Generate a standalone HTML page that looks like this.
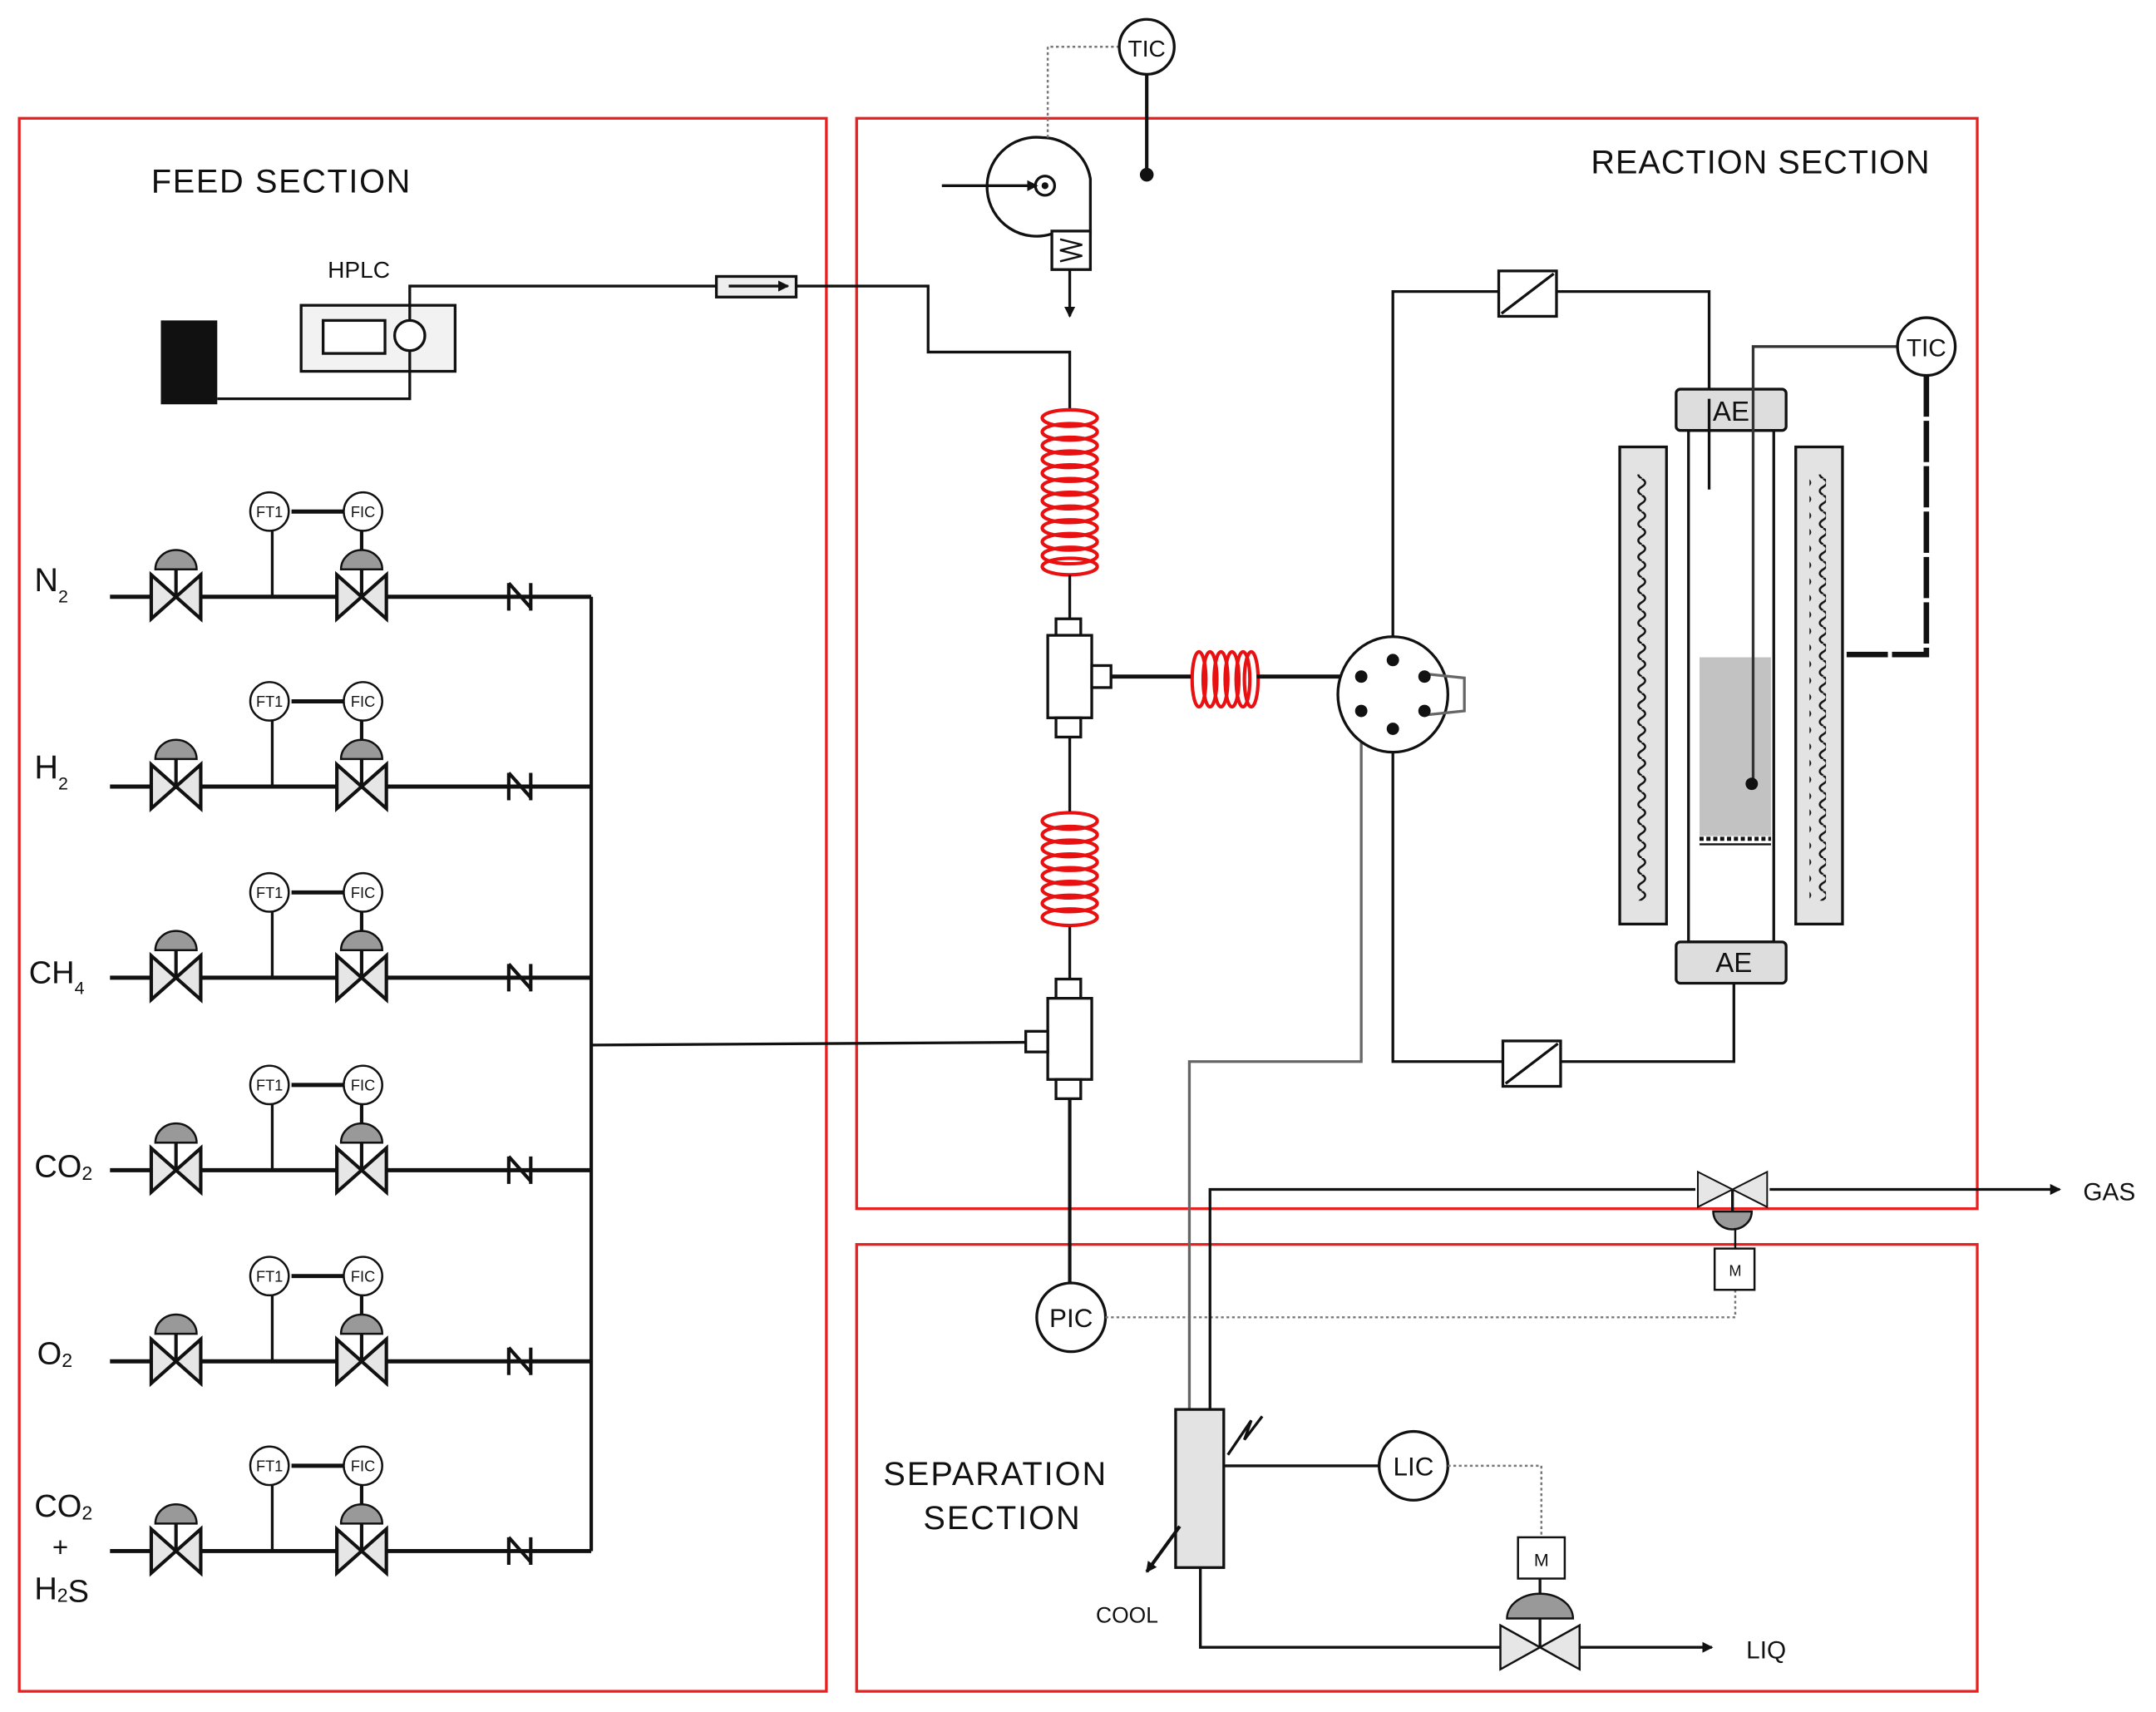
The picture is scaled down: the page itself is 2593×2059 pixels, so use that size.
<!DOCTYPE html>
<html><head><meta charset="utf-8"><style>
html,body{margin:0;padding:0;background:#fff}
svg{display:block}
text{font-family:"Liberation Sans",sans-serif;fill:#111}
</style></head><body>
<svg width="2593" height="2059" viewBox="0 0 1568 1245" xmlns="http://www.w3.org/2000/svg">
<defs>
<g id="valve"><path d="M-18,-16 L18,16 L18,-16 L-18,16 Z" fill="#e6e6e6" stroke="#111" stroke-width="2.5"/><line x1="0" y1="0" x2="0" y2="-20" stroke="#111" stroke-width="2.5"/><path d="M-15,-16 A15,14 0 0 1 15,-16 Z" fill="#999" stroke="#111" stroke-width="1.5" transform="translate(0,-4)"/></g>
<g id="valve0"><path d="M-18,-16 L18,16 L18,-16 L-18,16 Z" fill="#e6e6e6" stroke="#111" stroke-width="2.5"/></g>
<g id="check"><path d="M-8,-10 L-8,10 M-8,-10 L8,8 M8,-10 L8,10" stroke="#111" stroke-width="2.5" fill="none"/></g>
<pattern id="zig" width="12" height="12" patternUnits="userSpaceOnUse"><path d="M6,0 Q11,3 6,6 Q1,9 6,12" fill="none" stroke="#111" stroke-width="1.5"/></pattern>
<marker id="arr" markerWidth="8" markerHeight="8" refX="7" refY="4" orient="auto" markerUnits="userSpaceOnUse"><path d="M0,0 L8,4 L0,8 Z" fill="#111"/></marker>
</defs>
<g fill="none" stroke="#e82020" stroke-width="2">
<rect x="14" y="86" width="587" height="1144"/>
<rect x="623" y="86" width="815" height="793"/>
<rect x="623" y="905" width="815" height="325"/>
</g>
<text x="110" y="140" font-size="24" letter-spacing="1">FEED SECTION</text>
<text x="1157" y="126" font-size="24" letter-spacing="0.6">REACTION SECTION</text>
<text x="724" y="1080" font-size="24" letter-spacing="1.2" text-anchor="middle">SEPARATION</text>
<text x="729" y="1112" font-size="24" letter-spacing="1.2" text-anchor="middle">SECTION</text>

<!-- HPLC -->
<rect x="117" y="233" width="41" height="61" fill="#111"/>
<text x="261" y="202" font-size="17" text-anchor="middle">HPLC</text>
<rect x="219" y="222" width="112" height="48" fill="#f2f2f2" stroke="#111" stroke-width="2"/>
<rect x="235" y="233" width="45" height="24" fill="#fff" stroke="#111" stroke-width="2"/>
<circle cx="298" cy="244" r="11" fill="#fff" stroke="#111" stroke-width="2"/>
<polyline points="158,290 298,290 298,255" fill="none" stroke="#111" stroke-width="2"/>
<polyline points="298,233 298,208 521,208" fill="none" stroke="#111" stroke-width="2"/>
<rect x="521" y="201" width="58" height="15" fill="#eee" stroke="#111" stroke-width="2"/>
<line x1="530" y1="208" x2="573" y2="208" stroke="#111" stroke-width="2" marker-end="url(#arr)"/>
<polyline points="579,208 675,208 675,256 778,256 778,297" fill="none" stroke="#111" stroke-width="2"/>

<!-- gas rows -->
<g stroke="#111" fill="none">
<line x1="430" y1="434" x2="430" y2="1128" stroke-width="2.5"/>
<line x1="430" y1="760" x2="746" y2="758" stroke-width="2"/>
</g>
<g font-size="24">
<text x="25" y="430">N<tspan font-size="13" dy="8">2</tspan></text>
<text x="25" y="566">H<tspan font-size="13" dy="8">2</tspan></text>
<text x="21" y="715" font-size="23">CH<tspan font-size="13" dy="8">4</tspan></text>
<text x="25" y="856" font-size="23">CO<tspan font-size="14" dy="2">2</tspan></text>
<text x="27" y="992" font-size="23">O<tspan font-size="14" dy="2">2</tspan></text>
<text x="25" y="1103" font-size="23">CO<tspan font-size="14" dy="2">2</tspan></text>
<text x="38" y="1132" font-size="20">+</text>
<text x="25" y="1163" font-size="23">H<tspan font-size="14" dy="2">2</tspan>S</text>
</g>
<g id="row1" transform="translate(0,434)">
<line x1="80" y1="0" x2="430" y2="0" stroke="#111" stroke-width="3"/>
<line x1="198" y1="0" x2="198" y2="-62" stroke="#111" stroke-width="2"/>
<line x1="212" y1="-62" x2="250" y2="-62" stroke="#111" stroke-width="3"/>
<line x1="263" y1="-50" x2="263" y2="-34" stroke="#111" stroke-width="2.5"/>
<circle cx="196" cy="-62" r="14" fill="#fff" stroke="#111" stroke-width="1.5"/>
<circle cx="264" cy="-62" r="14" fill="#fff" stroke="#111" stroke-width="1.5"/>
<text x="196" y="-58" font-size="11" text-anchor="middle" fill="#555">FT1</text>
<text x="264" y="-58" font-size="11" text-anchor="middle" fill="#555">FIC</text>
<use href="#valve" x="128" y="0"/>
<use href="#valve" x="263" y="0"/>
<use href="#check" x="378" y="0"/>
</g>
<use href="#row1" y="138"/>
<use href="#row1" y="277"/>
<use href="#row1" y="417"/>
<use href="#row1" y="556"/>
<use href="#row1" y="694"/>

<!-- compressor + TIC top -->
<path d="M758,100 A36,36 0 1 0 765,170 L793,170 L793,130 A36,36 0 0 0 758,100 Z" fill="#fff" stroke="#111" stroke-width="2"/>
<circle cx="760" cy="135" r="7" fill="none" stroke="#111" stroke-width="2"/>
<circle cx="760" cy="135" r="2.5" fill="#111"/>
<line x1="685" y1="135" x2="754" y2="135" stroke="#111" stroke-width="2" marker-end="url(#arr)"/>
<rect x="765" y="168" width="28" height="28" fill="#fff" stroke="#111" stroke-width="2"/>
<path d="M771,174 L787,178 L771,182 L787,186 L771,190" fill="none" stroke="#111" stroke-width="1.5"/>
<line x1="778" y1="196" x2="778" y2="230" stroke="#111" stroke-width="2" marker-end="url(#arr)"/>
<polyline points="762,100 762,34 814,34" fill="none" stroke="#777" stroke-width="1.5" stroke-dasharray="2,2"/>
<circle cx="834" cy="34" r="20" fill="#fff" stroke="#111" stroke-width="2"/>
<text x="834" y="41" font-size="17" text-anchor="middle">TIC</text>
<line x1="834" y1="54" x2="834" y2="127" stroke="#111" stroke-width="2.5"/>
<circle cx="834" cy="127" r="5" fill="#111"/>

<!-- coils -->
<g fill="none" stroke="#e81010" stroke-width="2.5">
<ellipse cx="778" cy="304" rx="20" ry="6"/><ellipse cx="778" cy="314" rx="20" ry="6"/><ellipse cx="778" cy="324" rx="20" ry="6"/><ellipse cx="778" cy="334" rx="20" ry="6"/><ellipse cx="778" cy="344" rx="20" ry="6"/><ellipse cx="778" cy="354" rx="20" ry="6"/><ellipse cx="778" cy="364" rx="20" ry="6"/><ellipse cx="778" cy="374" rx="20" ry="6"/><ellipse cx="778" cy="384" rx="20" ry="6"/><ellipse cx="778" cy="394" rx="20" ry="6"/><ellipse cx="778" cy="404" rx="20" ry="6"/><ellipse cx="778" cy="412" rx="20" ry="6"/>
<ellipse cx="778" cy="597" rx="20" ry="6"/><ellipse cx="778" cy="607" rx="20" ry="6"/><ellipse cx="778" cy="617" rx="20" ry="6"/><ellipse cx="778" cy="627" rx="20" ry="6"/><ellipse cx="778" cy="637" rx="20" ry="6"/><ellipse cx="778" cy="647" rx="20" ry="6"/><ellipse cx="778" cy="657" rx="20" ry="6"/><ellipse cx="778" cy="667" rx="20" ry="6"/>
<ellipse cx="872" cy="494" rx="5" ry="20"/><ellipse cx="880" cy="494" rx="5" ry="20"/><ellipse cx="888" cy="494" rx="5" ry="20"/><ellipse cx="896" cy="494" rx="5" ry="20"/><ellipse cx="904" cy="494" rx="5" ry="20"/><ellipse cx="910" cy="494" rx="5" ry="20"/>
</g>
<g stroke="#111" stroke-width="2" fill="#fff">
<line x1="778" y1="418" x2="778" y2="450"/>
<rect x="768" y="450" width="18" height="12"/>
<rect x="762" y="462" width="32" height="60"/>
<rect x="794" y="484" width="14" height="16"/>
<rect x="768" y="522" width="18" height="14"/>
<line x1="778" y1="536" x2="778" y2="590"/>
<line x1="808" y1="492" x2="866" y2="492" stroke-width="3"/>
<line x1="914" y1="492" x2="980" y2="492" stroke-width="3"/>
<line x1="778" y1="674" x2="778" y2="712"/>
<rect x="768" y="712" width="18" height="14"/>
<rect x="762" y="726" width="32" height="59"/>
<rect x="746" y="750" width="16" height="15"/>
<rect x="768" y="785" width="18" height="14"/>
<line x1="778" y1="799" x2="778" y2="933" stroke-width="2.5"/>
</g>
<circle cx="779" cy="958" r="25" fill="#fff" stroke="#111" stroke-width="2"/>
<text x="779" y="965" font-size="19" text-anchor="middle">PIC</text>
<polyline points="804,958 1262,958 1262,938" fill="none" stroke="#777" stroke-width="1.5" stroke-dasharray="2,2"/>

<!-- six-port valve -->
<g stroke="#111" fill="none" stroke-width="2">
<polyline points="1013,480 1013,212 1090,212"/>
<rect x="1090" y="197" width="42" height="33" fill="#fff"/>
<line x1="1092" y1="228" x2="1130" y2="199"/>
<polyline points="1132,212 1243,212 1243,356"/>
<polyline points="1013,530 1013,772 1093,772"/>
<rect x="1093" y="757" width="42" height="33" fill="#fff"/>
<line x1="1095" y1="788" x2="1133" y2="759"/>
<polyline points="1135,772 1261,772 1261,715"/>
<polyline points="990,520 990,772 865,772 865,1025" stroke="#666"/>
<ellipse cx="1013" cy="505" rx="40" ry="42" fill="#fff"/>
<polyline points="1036,490 1065,493 1065,517 1036,520" stroke="#666"/>
</g>
<g fill="#111">
<circle cx="1013" cy="480" r="4.5"/><circle cx="990" cy="492" r="4.5"/><circle cx="1036" cy="492" r="4.5"/><circle cx="990" cy="517" r="4.5"/><circle cx="1036" cy="517" r="4.5"/><circle cx="1013" cy="530" r="4.5"/>
</g>

<!-- reactor -->
<rect x="1178" y="325" width="34" height="347" fill="#e3e3e3" stroke="#111" stroke-width="2"/>
<rect x="1306" y="325" width="34" height="347" fill="#e3e3e3" stroke="#111" stroke-width="2"/>
<rect x="1189" y="345" width="12" height="310" fill="url(#zig)"/>
<rect x="1316" y="345" width="12" height="310" fill="url(#zig)"/>
<rect x="1228" y="313" width="62" height="372" fill="#fff" stroke="#111" stroke-width="2"/>
<rect x="1236" y="478" width="52" height="130" fill="#c2c2c2"/>
<line x1="1236" y1="610" x2="1288" y2="610" stroke="#111" stroke-width="3" stroke-dasharray="3,2"/>
<line x1="1236" y1="614" x2="1288" y2="614" stroke="#111" stroke-width="1.5"/>
<rect x="1219" y="283" width="80" height="30" rx="3" fill="#ddd" stroke="#111" stroke-width="2"/>
<text x="1259" y="306" font-size="20" text-anchor="middle">AE</text>
<rect x="1219" y="685" width="80" height="30" rx="3" fill="#ddd" stroke="#111" stroke-width="2"/>
<text x="1261" y="707" font-size="20" text-anchor="middle">AE</text>
<line x1="1243" y1="290" x2="1243" y2="356" stroke="#111" stroke-width="2"/>
<polyline points="1380,252 1275,252 1275,570" fill="none" stroke="#333" stroke-width="2"/>
<circle cx="1274" cy="570" r="4.5" fill="#111"/>
<circle cx="1401" cy="252" r="21" fill="#fff" stroke="#111" stroke-width="2"/>
<text x="1401" y="259" font-size="18" text-anchor="middle">TIC</text>
<polyline points="1401,273 1401,476 1340,476" fill="none" stroke="#111" stroke-width="4" stroke-dasharray="30,3"/>

<!-- gas outlet -->
<polyline points="880,1025 880,865 1233,865" fill="none" stroke="#111" stroke-width="2"/>
<line x1="1287" y1="865" x2="1498" y2="865" stroke="#111" stroke-width="2" marker-end="url(#arr)"/>
<g transform="translate(1260,865) scale(1.4,0.8)"><path d="M-18,-16 L18,16 L18,-16 L-18,16 Z" fill="#e6e6e6" stroke="#111" stroke-width="2" vector-effect="non-scaling-stroke"/></g>
<line x1="1260" y1="865" x2="1260" y2="888" stroke="#111" stroke-width="2"/>
<path d="M1246,881 A14,13 0 0 0 1274,881 Z" fill="#999" stroke="#111" stroke-width="1.5"/>
<line x1="1262" y1="893" x2="1262" y2="908" stroke="#111" stroke-width="1.5"/>
<rect x="1247" y="908" width="29" height="30" fill="#fff" stroke="#111" stroke-width="1.5"/>
<text x="1262" y="928" font-size="11" text-anchor="middle" fill="#555">M</text>
<text x="1515" y="873" font-size="18">GAS</text>

<!-- separator -->
<rect x="855" y="1025" width="35" height="115" fill="#e3e3e3" stroke="#111" stroke-width="2"/>
<path d="M893,1058 L910,1033 L905,1047 L918,1030" fill="none" stroke="#111" stroke-width="2"/>
<line x1="858" y1="1110" x2="834" y2="1143" stroke="#111" stroke-width="2.5" marker-end="url(#arr)"/>
<text x="797" y="1180" font-size="16">COOL</text>
<line x1="890" y1="1066" x2="1003" y2="1066" stroke="#111" stroke-width="2"/>
<circle cx="1028" cy="1066" r="25" fill="#fff" stroke="#111" stroke-width="2"/>
<text x="1028" y="1073" font-size="19" text-anchor="middle">LIC</text>
<polyline points="1053,1066 1121,1066 1121,1118" fill="none" stroke="#777" stroke-width="1.5" stroke-dasharray="2,2"/>
<rect x="1104" y="1118" width="34" height="30" fill="#fff" stroke="#111" stroke-width="1.5"/>
<text x="1121" y="1139" font-size="13" text-anchor="middle" fill="#555">M</text>
<polyline points="873,1140 873,1198 1092,1198" fill="none" stroke="#111" stroke-width="2"/>
<g transform="translate(1120,1198) scale(1.6,1.0)"><path d="M-18,-16 L18,16 L18,-16 L-18,16 Z" fill="#e6e6e6" stroke="#111" stroke-width="2.5" vector-effect="non-scaling-stroke"/></g>
<line x1="1120" y1="1148" x2="1120" y2="1198" stroke="#111" stroke-width="2"/>
<path d="M1096,1177 A24,18 0 0 1 1144,1177 Z" fill="#999" stroke="#111" stroke-width="1.5"/>
<line x1="1149" y1="1198" x2="1245" y2="1198" stroke="#111" stroke-width="2" marker-end="url(#arr)"/>
<text x="1270" y="1206" font-size="18">LIQ</text>
</svg>
</body></html>
